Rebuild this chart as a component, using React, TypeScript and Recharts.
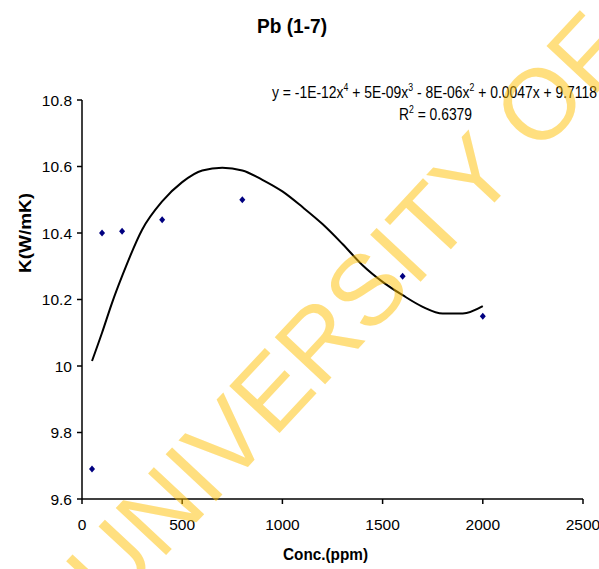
import React from 'react';
import { ComposedChart, XAxis, YAxis, Scatter, Line } from 'recharts';

// measured points
const concPpm = [50, 100, 200, 400, 800, 1600, 2000];
const kValues = [9.69, 10.4, 10.405, 10.44, 10.5, 10.27, 10.15];

// polynomial trendline
const trendConc = [50, 100, 150, 200, 300, 400, 500, 600, 700, 800, 900, 1000, 1100, 1200, 1300, 1400, 1500, 1600, 1700, 1800, 1900, 2000];
const trendK = [10.015, 10.1, 10.19, 10.27, 10.41, 10.495, 10.553, 10.588, 10.596, 10.588, 10.56, 10.525, 10.478, 10.427, 10.367, 10.303, 10.253, 10.213, 10.178, 10.158, 10.158, 10.18];

const xTicks = [0, 500, 1000, 1500, 2000, 2500];
const yTicks = [9.6, 9.8, 10, 10.2, 10.4, 10.6, 10.8];

const W = 599;
const H = 569;
const FONT = '"Liberation Sans Narrow", "Arial Narrow", "Liberation Sans", Arial, sans-serif';
const WIDE = '"Liberation Sans", Arial, sans-serif';

const Diamond = (props: any) => {
    const { cx, cy } = props;
    if (cx == null || cy == null) return null;
    return (
        <polygon
            points={`${cx},${cy - 3.5} ${cx + 3},${cy} ${cx},${cy + 3.5} ${cx - 3},${cy}`}
            fill="#000080"
        />
    );
};

export default function App() {
    const points = concPpm.map((c, i) => ({ x: c, y: kValues[i] }));
    const trend = trendConc.map((c, i) => ({ x: c, y: trendK[i] }));
    const tickStyle = { fill: '#000', fontSize: 15.5, fontFamily: FONT };

    return (
        <div style={{ position: 'absolute', left: 0, top: 0, width: W, height: H, background: '#fff' }}>
            <ComposedChart width={W} height={H} margin={{ top: 100, right: 16, left: 22, bottom: 40 }}>
                <XAxis
                    type="number"
                    dataKey="x"
                    domain={[0, 2500]}
                    ticks={xTicks}
                    height={30}
                    stroke="#000"
                    strokeWidth={1.5}
                    tickSize={5}
                    tickMargin={15}
                    tick={tickStyle}
                    allowDuplicatedCategory={false}
                />
                <YAxis
                    type="number"
                    dataKey="y"
                    domain={[9.6, 10.8]}
                    ticks={yTicks}
                    width={60}
                    stroke="#000"
                    strokeWidth={1.5}
                    tickSize={5}
                    tickMargin={5}
                    tick={tickStyle}
                />
                <Line
                    data={trend}
                    dataKey="y"
                    type="monotone"
                    stroke="#000"
                    strokeWidth={2}
                    dot={false}
                    activeDot={false}
                    isAnimationActive={false}
                />
                <Scatter data={points} dataKey="y" shape={<Diamond />} isAnimationActive={false} />
            </ComposedChart>
            <svg
                width={W}
                height={H}
                style={{ position: 'absolute', left: 0, top: 0, pointerEvents: 'none' }}
                fontFamily={FONT}
            >
                <text x={257} y={33} fontSize={21} fontWeight="bold" fill="#000" textLength={70} lengthAdjust="spacingAndGlyphs">
                    Pb (1-7)
                </text>
                <text x={272} y={98} fontSize={16} fill="#000" textLength={325} lengthAdjust="spacingAndGlyphs">
                    y = -1E-12x<tspan fontSize={10} dy={-7}>4</tspan>
                    <tspan dy={7}> + 5E-09x</tspan>
                    <tspan fontSize={10} dy={-7}>3</tspan>
                    <tspan dy={7}> - 8E-06x</tspan>
                    <tspan fontSize={10} dy={-7}>2</tspan>
                    <tspan dy={7}> + 0.0047x + 9.7118</tspan>
                </text>
                <text x={399} y={120} fontSize={16} fill="#000" textLength={73} lengthAdjust="spacingAndGlyphs">
                    R<tspan fontSize={10} dy={-7}>2</tspan>
                    <tspan dy={7}> = 0.6379</tspan>
                </text>
                <text
                    x={25}
                    y={233}
                    textAnchor="middle"
                    dominantBaseline="central"
                    fontSize={16}
                    fontWeight="bold"
                    fill="#000"
                    textLength={80}
                    lengthAdjust="spacingAndGlyphs"
                    transform="rotate(-90 25 233)"
                >
                    K(W/mK)
                </text>
                <text x={283} y={560} fontSize={16} fontWeight="bold" fill="#000" textLength={85} lengthAdjust="spacingAndGlyphs">
                    Conc.(ppm)
                </text>
                <text
                    x={372}
                    y={334}
                    textAnchor="middle"
                    fontSize={100}
                    fontFamily={WIDE}
                    fill="#FFC000"
                    fillOpacity={0.5}
                    transform="rotate(-47 372 334)"
                >
                    UNIVERSITY OF
                </text>
            </svg>
        </div>
    );
}
